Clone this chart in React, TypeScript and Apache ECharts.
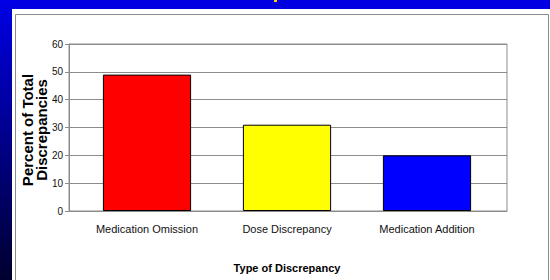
import React, { useEffect, useRef } from "react";
import * as echarts from "echarts";

const categories = ["Medication Omission", "Dose Discrepancy", "Medication Addition"];
const values = [49, 31, 20];
const barColors = ["#ff0000", "#ffff00", "#0000ff"];
const yTitle = "Percent of Total\nDiscrepancies";
const xTitle = "Type of Discrepancy";

export default function App() {
  const ref = useRef<HTMLDivElement>(null);
  useEffect(() => {
    if (!ref.current) return;
    const chart = echarts.init(ref.current, null, { renderer: "svg" });
    const font = "Liberation Sans";
    chart.setOption({
      animation: false,
      backgroundColor: "#ffffff",
      graphic: [
        { type: "rect", shape: { x: 0, y: 0, width: 550, height: 9 }, style: { fill: "#0000e0" }, z: 10 },
        {
          type: "rect",
          shape: { x: 0, y: 0, width: 12, height: 280 },
          style: {
            fill: new echarts.graphic.LinearGradient(0, 0, 0, 1, [
              { offset: 0, color: "#0000e6" },
              { offset: 1, color: "#00002e" },
            ]),
          },
          z: 10,
        },
        { type: "rect", shape: { x: 274, y: 0, width: 3, height: 2 }, style: { fill: "#ffd000" }, z: 11 },
        {
          type: "rect",
          shape: { x: 15.5, y: 14.5, width: 533, height: 270 },
          style: { fill: "none", stroke: "#8c8c8c", lineWidth: 1 },
          z: 5,
        },
        {
          type: "text",
          x: 34,
          y: 130,
          rotation: Math.PI / 2,
          style: {
            text: yTitle,
            fontFamily: font,
            fontSize: 15,
            fontWeight: "bold",
            fill: "#000",
            lineHeight: 14,
            align: "center",
            verticalAlign: "middle",
          },
          z: 12,
        },
      ],
      grid: [
        { left: 69, right: 43, top: 44, bottom: 69, show: true, borderColor: "#8c8c8c", borderWidth: 1 },
        { left: 77, right: 53, top: 44, bottom: 69 },
      ],
      xAxis: [
        {
          type: "category",
          gridIndex: 0,
          data: categories,
          axisLine: { show: true, lineStyle: { color: "#8c8c8c" } },
          axisTick: { show: false },
          axisLabel: { show: false },
        },
        {
          type: "category",
          gridIndex: 1,
          data: categories,
          name: xTitle,
          nameLocation: "middle",
          nameGap: 51,
          nameTextStyle: { fontFamily: font, fontSize: 11, fontWeight: "bold", color: "#000" },
          axisLine: { show: false },
          axisTick: { show: false },
          axisLabel: { fontFamily: font, fontSize: 11, color: "#111", margin: 12, interval: 0 },
        },
      ],
      yAxis: [
        {
          type: "value",
          gridIndex: 0,
          min: 0,
          max: 60,
          interval: 10,
          axisLine: { show: true, lineStyle: { color: "#8c8c8c" } },
          axisTick: { show: true, length: 4, inside: false, lineStyle: { color: "#8c8c8c" } },
          axisLabel: { fontFamily: font, fontSize: 10, color: "#111", margin: 6 },
          splitLine: { show: true, lineStyle: { color: "#8c8c8c", width: 1 } },
        },
        {
          type: "value",
          gridIndex: 1,
          min: 0,
          max: 60,
          interval: 10,
          show: false,
        },
      ],
      series: [
        {
          type: "bar",
          xAxisIndex: 1,
          yAxisIndex: 1,
          data: values.map((v, i) => ({ value: v, itemStyle: { color: barColors[i] } })),
          barCategoryGap: "37%",
          itemStyle: { borderColor: "#000", borderWidth: 1 },
        },
      ],
    });
    return () => chart.dispose();
  }, []);
  return (
    <div
      ref={ref}
      style={{ position: "fixed", left: 0, top: 0, width: 550, height: 280, background: "#fff" }}
    />
  );
}
